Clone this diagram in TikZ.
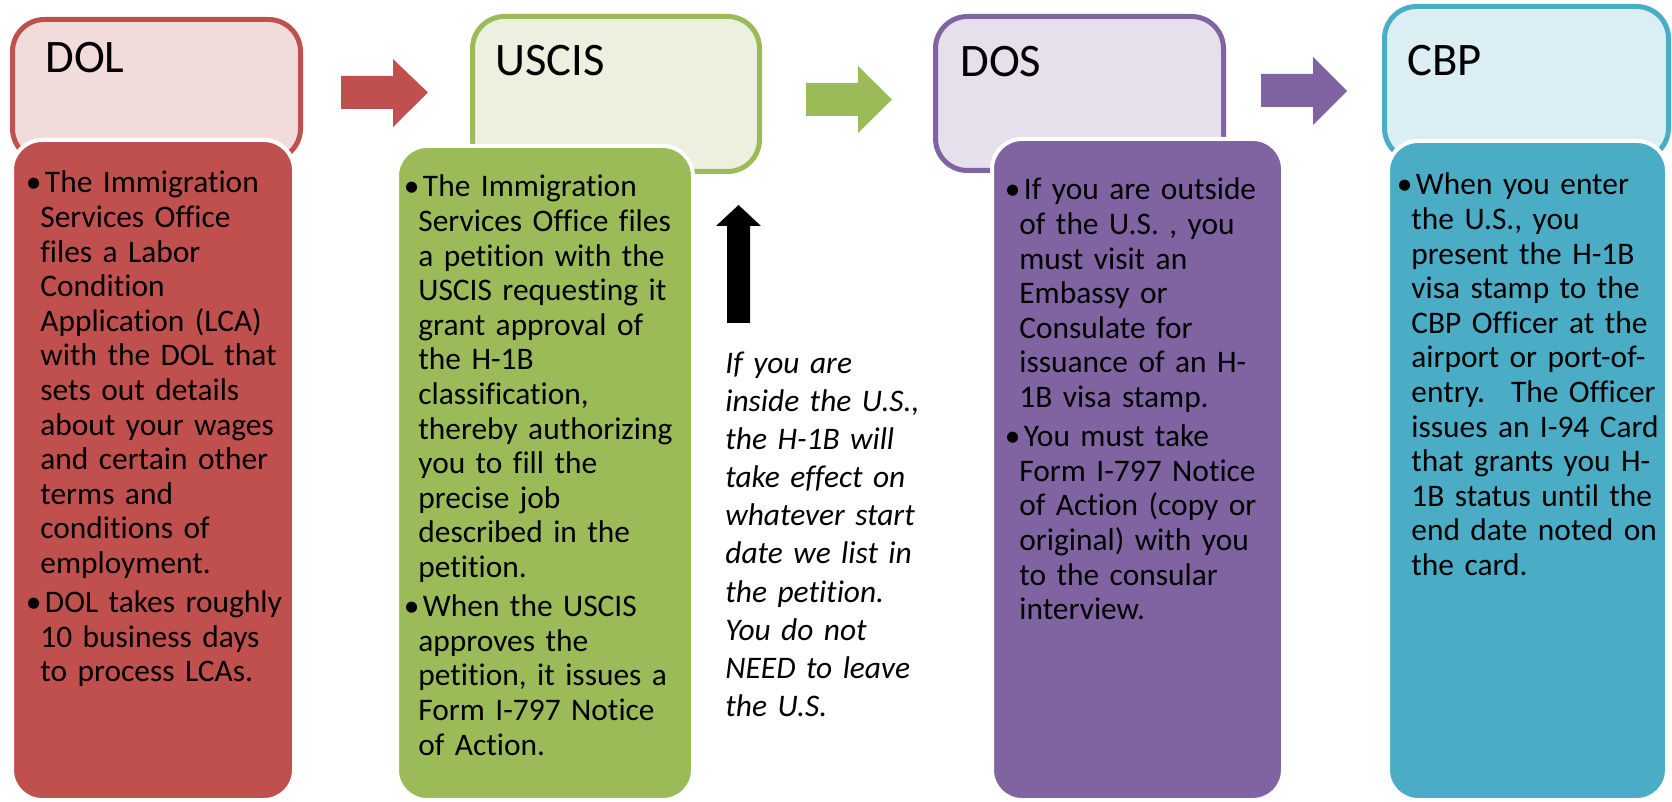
\documentclass[tikz,border=0pt]{standalone}
\usepackage{fontspec}
\setmainfont{Carlito}[RawFeature={-liga;-clig;-dlig;-calt}]
\definecolor{dolB}{HTML}{C0504D}
\definecolor{dolL}{HTML}{F2DCDB}
\definecolor{uscB}{HTML}{9BBB59}
\definecolor{uscL}{HTML}{EBF1DE}
\definecolor{dosB}{HTML}{8064A2}
\definecolor{dosL}{HTML}{E5E0EC}
\definecolor{cbpB}{HTML}{4BACC6}
\definecolor{cbpL}{HTML}{DBEEF4}
\newcommand{\bul}{\leavevmode\hspace*{-7.3pt}\makebox[9.6pt][l]{•}}
\newcommand{\pgap}{\par\vspace{2.3pt}}
\begin{document}
\begin{tikzpicture}[x=0.5pt,y=-0.5pt,
  hdr/.style={draw, line width=2.5pt, rounded corners=16pt, inner sep=0pt, outer sep=0pt},
  bodybox/.style={draw=white, line width=2pt, rounded corners=15pt, inner sep=0pt, outer sep=0pt},
  ttl/.style={anchor=base west, inner sep=0pt, font=\fontsize{23.3}{28}\selectfont},
  btxt/.style={anchor=base west, inner sep=0pt, text width=160pt, align=left, font=\fontsize{15.7}{17.3}\selectfont},
  itxt/.style={anchor=base west, inner sep=0pt, text width=120pt, align=left, font=\fontsize{15.7}{19.1}\selectfont\itshape}]
\useasboundingbox (0,0) rectangle (1672,802);
\clip (0,0) rectangle (1672,802);
\fill[white] (0,0) rectangle (1672,802);

% header boxes
\node[hdr, draw=dolB, fill=dolL, minimum width=144pt, minimum height=70.5pt] (dolH) at (156.5,90) {};
\node[hdr, draw=uscB, fill=uscL, minimum width=143.5pt, minimum height=77.5pt] (uscH) at (616,94) {};
\node[hdr, draw=dosB, fill=dosL, minimum width=144pt, minimum height=77pt] (dosH) at (1079.5,93.5) {};
\node[hdr, draw=cbpB, fill=cbpL, minimum width=142pt, minimum height=76.75pt] (cbpH) at (1526.5,83.25) {};

% body boxes
\node[bodybox, fill=dolB, minimum width=141pt, minimum height=330pt] (dolBody) at (153,470) {};
\node[bodybox, fill=uscB, minimum width=148pt, minimum height=327pt] (uscBody) at (545,473) {};
\node[bodybox, fill=dosB, minimum width=145.5pt, minimum height=330.5pt] (dosBody) at (1137.5,469.5) {};
\node[bodybox, fill=cbpB, minimum width=139.5pt, minimum height=329.5pt] (cbpBody) at (1527.5,470.5) {};

% block arrows
\fill[dolB] (341,76) -- (393,76) -- (393,59) -- (428,92.5) -- (393,127) -- (393,109) -- (341,109) -- cycle;
\fill[uscB] (806,83) -- (858,83) -- (858,66) -- (892,99.5) -- (858,133) -- (858,116) -- (806,116) -- cycle;
\fill[dosB] (1261,74) -- (1313,74) -- (1313,57) -- (1347,91) -- (1313,125) -- (1313,107) -- (1261,107) -- cycle;
\fill[black] (727,323) -- (727,226) -- (716,226) -- (738.5,205) -- (761,226) -- (750,226) -- (750,323) -- cycle;

% titles
\node[ttl] (dolT) at (45,73) {DOL};
\node[ttl] (uscT) at (495,76) {USCIS};
\node[ttl] (dosT) at (960,77) {DOS};
\node[ttl] (cbpT) at (1407,76) {CBP};

% body texts
\node[btxt] (dolX) at (40,193) {\bul The Immigration\newline Services Office\newline files a Labor\newline Condition\newline Application (LCA)\newline with the DOL that\newline sets out details\newline about your wages\newline and certain other\newline terms and\newline conditions of\newline employment.\pgap
\bul DOL takes roughly\newline 10 business days\newline to process LCAs.};

\node[btxt] (uscX) at (418,197) {\bul The Immigration\newline Services Office files\newline a petition with the\newline USCIS requesting it\newline grant approval of\newline the H-1B\newline classification,\newline thereby authorizing\newline you to fill the\newline precise job\newline described in the\newline petition.\pgap
\bul When the USCIS\newline approves the\newline petition, it issues a\newline Form I-797 Notice\newline of Action.};

\node[itxt] (note) at (725,373) {If you are\newline inside the U.S.,\newline the H-1B will\newline take effect on\newline whatever start\newline date we list in\newline the petition.\newline You do not\newline NEED to leave\newline the U.S.};

\node[btxt] (dosX) at (1019,200) {\bul If you are outside\newline of the U.S. , you\newline must visit an\newline Embassy or\newline Consulate for\newline issuance of an H-\newline 1B visa stamp.\pgap
\bul You must take\newline Form I-797 Notice\newline of Action (copy or\newline original) with you\newline to the consular\newline interview.};

\node[btxt] (cbpX) at (1411,195) {\bul When you enter\newline the U.S., you\newline present the H-1B\newline visa stamp to the\newline CBP Officer at the\newline airport or port-of-\newline entry.~ The Officer\newline issues an I-94 Card\newline that grants you H-\newline 1B status until the\newline end date noted on\newline the card.};
\end{tikzpicture}
\end{document}
